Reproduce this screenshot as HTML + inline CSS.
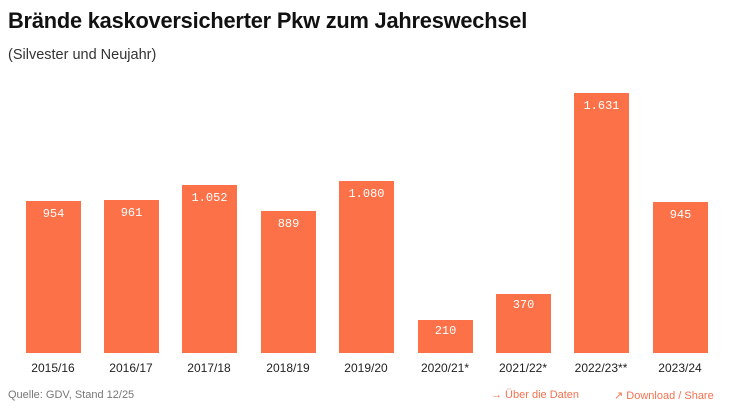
<!DOCTYPE html><html><head><style>
body{margin:0;width:735px;height:413px;background:#fff;font-family:"Liberation Sans",sans-serif;position:relative;overflow:hidden}
.t{position:absolute;left:8px;top:8px;font-size:21.8px;font-weight:bold;color:#111;letter-spacing:-0.2px}
.s{position:absolute;left:8px;top:47px;font-size:14.5px;color:#333}
.b{position:absolute;width:55px;background:#fd7148;bottom:60px}
.v{position:absolute;width:55px;text-align:center;color:#fff;font-family:"Liberation Mono",monospace;font-size:12px}
.x{position:absolute;width:80px;text-align:center;top:361px;font-size:12px;color:#222}
.f{position:absolute;top:389px;font-size:11px}
</style></head><body>
<div class="t">Brände kaskoversicherter Pkw zum Jahreswechsel</div>
<div class="s">(Silvester und Neujahr)</div>
<div class="b" style="left:26px;height:152px"></div><div class="v" style="left:26px;top:207px">954</div><div class="x" style="left:13px">2015/16</div>
<div class="b" style="left:104px;height:153px"></div><div class="v" style="left:104px;top:206px">961</div><div class="x" style="left:91px">2016/17</div>
<div class="b" style="left:182px;height:168px"></div><div class="v" style="left:182px;top:191px">1.052</div><div class="x" style="left:169px">2017/18</div>
<div class="b" style="left:261px;height:142px"></div><div class="v" style="left:261px;top:217px">889</div><div class="x" style="left:248px">2018/19</div>
<div class="b" style="left:339px;height:172px"></div><div class="v" style="left:339px;top:187px">1.080</div><div class="x" style="left:326px">2019/20</div>
<div class="b" style="left:418px;height:33px"></div><div class="v" style="left:418px;top:324px">210</div><div class="x" style="left:405px">2020/21*</div>
<div class="b" style="left:496px;height:59px"></div><div class="v" style="left:496px;top:298px">370</div><div class="x" style="left:483px">2021/22*</div>
<div class="b" style="left:574px;height:260px"></div><div class="v" style="left:574px;top:99px">1.631</div><div class="x" style="left:561px">2022/23**</div>
<div class="b" style="left:653px;height:151px"></div><div class="v" style="left:653px;top:208px">945</div><div class="x" style="left:640px">2023/24</div>
<div class="f" style="left:8px;color:#777">Quelle: GDV, Stand 12/25</div>
<div class="f" style="left:491px;color:#f37250">→ Über die Daten</div>
<div class="f" style="left:614px;color:#f37250">↗ Download / Share</div>
</body></html>
